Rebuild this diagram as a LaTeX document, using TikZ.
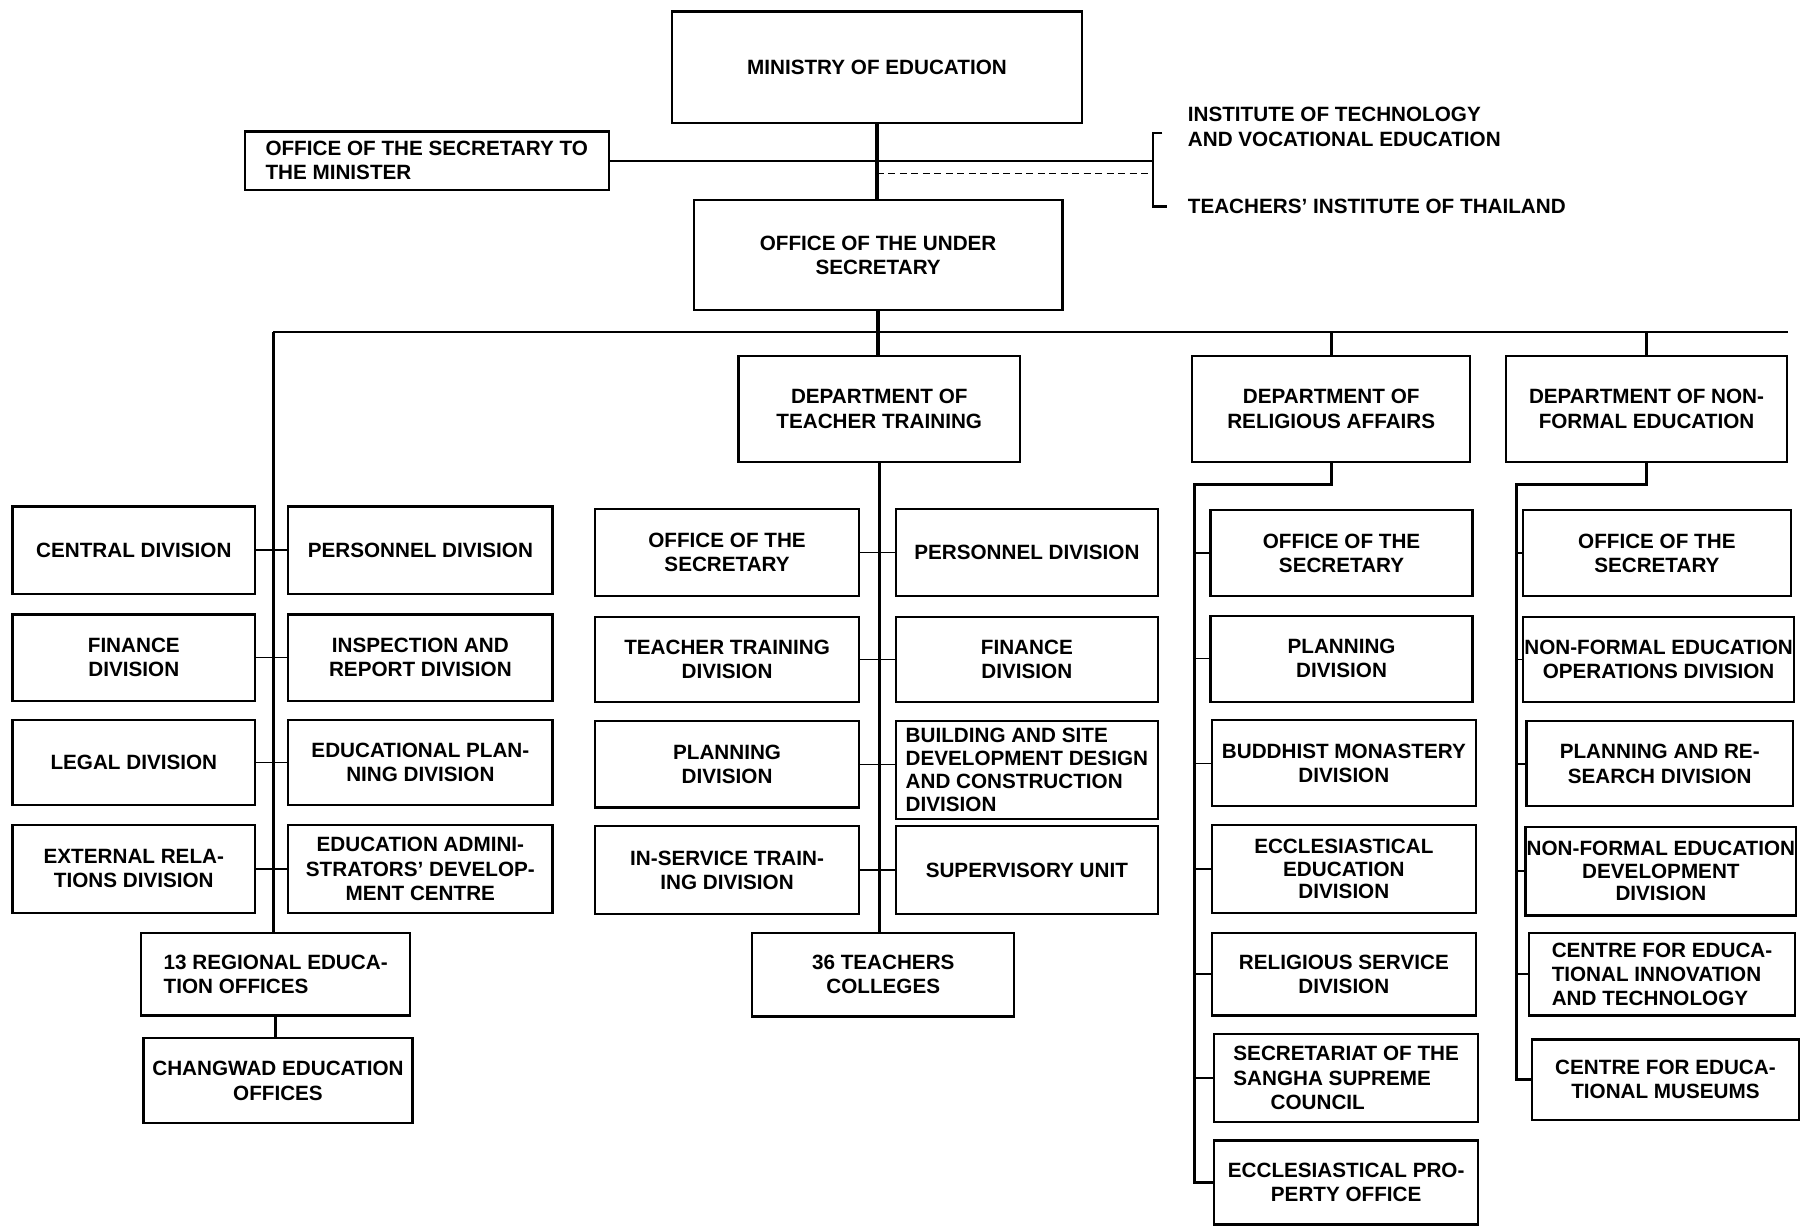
\documentclass[tikz,border=0pt]{standalone}
\usepackage{fontspec}
\setmainfont{Liberation Sans}
\begin{document}
\begin{tikzpicture}[x=1pt,y=-1pt,
  box/.style={draw, line width=2pt, align=center, inner xsep=1pt, inner ysep=1pt,
              font=\fontsize{18}{21}\selectfont\bfseries},
  wh/.style 2 args={minimum width=#1, minimum height=#2},
  lbl/.style={align=left, inner sep=0pt, font=\fontsize{18}{21}\selectfont\bfseries},
  mainline/.style={line width=3pt},
  busline/.style={line width=1.6pt},
  tickline/.style={line width=1.3pt},
  branch/.style={line width=2.6pt}]
\fill[white] (0,0) rectangle (1568,1067);
\useasboundingbox (0,0) rectangle (1568,1067);

% top
\node[box, wh={357}{97}] (min) at (763.5,58.5) {MINISTRY OF EDUCATION};
\node[box, wh={317}{51}, align=left] (secmin) at (371.5,140) {OFFICE OF THE SECRETARY TO\\THE MINISTER};
\node[box, wh={321}{96}] (under) at (764.5,222) {OFFICE OF THE UNDER\\SECRETARY};
\node[lbl, anchor=west] (ivt) at (1034,110.5) {INSTITUTE OF TECHNOLOGY\\AND VOCATIONAL EDUCATION};
\node[lbl, anchor=west] (tit) at (1034,180) {TEACHERS' INSTITUTE OF THAILAND};
\coordinate (bt) at (1004,116);
\coordinate (bb) at (1004,180);
\coordinate (dashy) at (0,151);

% departments
\node[box, wh={245}{92}] (dtt) at (765.5,356) {DEPARTMENT OF\\TEACHER TRAINING};
\node[box, wh={242}{92}] (dra) at (1159,356) {DEPARTMENT OF\\RELIGIOUS AFFAIRS};
\node[box, wh={245}{92}] (dnf) at (1433.5,356) {DEPARTMENT OF NON-\\FORMAL EDUCATION};
\coordinate (busL) at (238,289);
\coordinate (busR) at (1557,289);

% under secretary divisions
\node[box, wh={211}{76}] (cen) at (116.5,479) {CENTRAL DIVISION};
\node[box, wh={211}{75}] (fin) at (116.5,572.5) {FINANCE\\DIVISION};
\node[box, wh={211}{74}] (leg) at (116.5,664) {LEGAL DIVISION};
\node[box, wh={211}{77}] (ext) at (116.5,756.5) {EXTERNAL RELA-\\TIONS DIVISION};
\node[box, wh={230}{76}] (per) at (366,479) {PERSONNEL DIVISION};
\node[box, wh={230}{75}] (ins) at (366,572.5) {INSPECTION AND\\REPORT DIVISION};
\node[box, wh={230}{74}] (epd) at (366,664) {EDUCATIONAL PLAN-\\NING DIVISION};
\node[box, wh={230}{77}] (ead) at (366,756.5) {EDUCATION ADMINI-\\STRATORS' DEVELOP-\\MENT CENTRE};
\node[box, wh={234}{72}, align=left] (reg) at (240,848) {13 REGIONAL EDUCA-\\TION OFFICES};
\node[box, wh={234}{74}] (chw) at (242,941) {CHANGWAD EDUCATION\\OFFICES};

% teacher training divisions
\node[box, wh={230}{76}] (tos) at (633,481) {OFFICE OF THE\\SECRETARY};
\node[box, wh={230}{74}] (ttd) at (633,574) {TEACHER TRAINING\\DIVISION};
\node[box, wh={230}{75}] (tpl) at (633,665.5) {PLANNING\\DIVISION};
\node[box, wh={230}{77}] (isd) at (633,757.5) {IN-SERVICE TRAIN-\\ING DIVISION};
\node[box, wh={228}{76}] (tpe) at (894,481) {PERSONNEL DIVISION};
\node[box, wh={228}{74}] (tfi) at (894,574) {FINANCE\\DIVISION};
\node[box, wh={228}{85}, align=left, font=\fontsize{18}{20}\selectfont\bfseries] (bsd) at (894,670.5) {BUILDING AND SITE\\DEVELOPMENT DESIGN\\AND CONSTRUCTION\\DIVISION};
\node[box, wh={228}{77}] (sup) at (894,757.5) {SUPERVISORY UNIT};
\node[box, wh={228}{73}] (col) at (769,848.5) {36 TEACHERS\\COLLEGES};

% religious affairs divisions
\coordinate (rtop) at (1040,422);
\node[box, wh={228}{75}] (r1) at (1168,481.5) {OFFICE OF THE\\SECRETARY};
\node[box, wh={228}{75}] (r2) at (1168,573.5) {PLANNING\\DIVISION};
\node[box, wh={230}{75}] (r3) at (1170,664.5) {BUDDHIST MONASTERY\\DIVISION};
\node[box, wh={230}{77}, font=\fontsize{18}{19.5}\selectfont\bfseries] (r4) at (1170,756.5) {ECCLESIASTICAL\\EDUCATION\\DIVISION};
\node[box, wh={230}{72}] (r5) at (1170,848) {RELIGIOUS SERVICE\\DIVISION};
\node[box, wh={230}{77}, align=left] (r6) at (1172,938.5) {SECRETARIAT OF THE\\SANGHA SUPREME\\\hspace*{1.8em}COUNCIL};
\node[box, wh={230}{73}] (r7) at (1172,1029.5) {ECCLESIASTICAL PRO-\\PERTY OFFICE};

% non-formal education divisions
\coordinate (ntop) at (1320,422);
\node[box, wh={233}{75}] (n1) at (1442.5,481.5) {OFFICE OF THE\\SECRETARY};
\node[box, wh={232}{74}] (n2) at (1444,574) {NON-FORMAL EDUCATION\\OPERATIONS DIVISION};
\node[box, wh={232}{74}] (n3) at (1445,665) {PLANNING AND RE-\\SEARCH DIVISION};
\node[box, wh={234}{77}, font=\fontsize{18}{19.5}\selectfont\bfseries] (n4) at (1446,758.5) {NON-FORMAL EDUCATION\\DEVELOPMENT\\DIVISION};
\node[box, wh={232}{72}, align=left] (n5) at (1447,848) {CENTRE FOR EDUCA-\\TIONAL INNOVATION\\AND TECHNOLOGY};
\node[box, wh={232}{70}] (n6) at (1450,940) {CENTRE FOR EDUCA-\\TIONAL MUSEUMS};

% connectors: top
\draw[mainline] (min.south) -- (min.south |- under.north);
\draw[mainline] (under.south) -- (under.south |- dtt.north);
\draw[tickline] (secmin.east) -- (secmin.east -| bt);
\draw[tickline, dashed, dash pattern=on 6pt off 4pt] (min.south |- dashy) -- (bt |- dashy);
\draw[line width=2.2pt] ([xshift=8]bt) -- (bt) -- (bb) -- ([xshift=12]bb);

% bus
\draw[busline] (busL) -- (busR);
\draw[mainline] (dra.north |- busL) -- (dra.north);
\draw[mainline] (dnf.north |- busL) -- (dnf.north);

% left column
\draw[branch] (busL) -- (busL |- reg.north);
\draw[tickline] (cen.east) -- (per.west);
\draw[tickline] (fin.east) -- (ins.west);
\draw[tickline] (leg.east) -- (epd.west);
\draw[tickline] (ext.east) -- (ead.west);
\draw[mainline] (reg.south) -- (reg.south |- chw.north);

% teacher training
\draw[branch] (dtt.south) -- (dtt.south |- col.north);
\draw[tickline] (tos.east) -- (tos.east -| tpe.west);
\draw[tickline] (ttd.east) -- (ttd.east -| tfi.west);
\draw[tickline] (tpl.east) -- (tpl.east -| bsd.west);
\draw[tickline] (isd.east) -- (isd.east -| sup.west);

% religious affairs
\draw[branch] (dra.south) |- (rtop) |- (r7.west);
\foreach \b in {r1,r2,r3,r4,r5,r6}
  \draw[tickline] (rtop |- \b.west) -- (\b.west);

% non-formal
\draw[branch] (dnf.south) |- (ntop) |- (n6.west);
\foreach \b in {n1,n2,n3,n4,n5}
  \draw[tickline] (ntop |- \b.west) -- (\b.west);
\end{tikzpicture}
\end{document}
